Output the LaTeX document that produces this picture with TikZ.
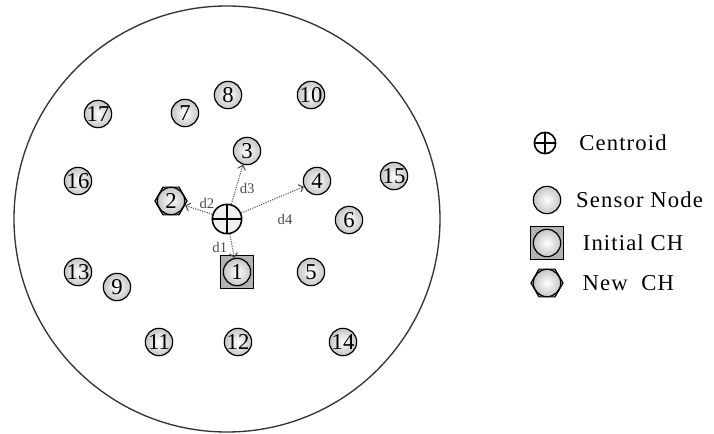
\documentclass[tikz,border=0pt]{standalone}
\usepackage{fontspec}
\setmainfont{Liberation Serif}
\usepackage{xcolor}
\usetikzlibrary{arrows.meta, positioning, shapes.geometric}

\begin{document}
\begin{tikzpicture}[
    x=0.75pt, y=-0.75pt,
    sensor/.style={draw, circle, line width=0.9pt, minimum size=20.5pt, inner sep=0pt,
        shading=radial, inner color=white, outer color=gray!45,
        font=\fontsize{17}{17}\selectfont},
    initch/.style={draw, rectangle, line width=0.9pt, minimum size=24.5pt, inner sep=0pt, fill=gray!60},
    newch/.style={draw, regular polygon, regular polygon sides=6, line width=0.9pt,
        minimum size=24pt, inner sep=0pt, fill=gray!60},
    centroid/.style={draw, circle, line width=1.2pt, minimum size=22pt, inner sep=0pt, fill=gray!12,
        path picture={\draw[line width=1.1pt] (path picture bounding box.north) -- (path picture bounding box.south)
            (path picture bounding box.west) -- (path picture bounding box.east);}},
    dist/.style={densely dotted, gray!60!black, line width=0.8pt, -{Straight Barb[length=3pt, width=6pt]}},
    dlab/.style={font=\fontsize{11}{11}\selectfont, inner sep=0.5pt},
    legtext/.style={anchor=west, inner sep=0pt, font=\fontsize{17}{17}\selectfont\addfontfeature{LetterSpace=5}}
]
    \useasboundingbox (0,0) rectangle (714,434);

    % Field
    \node[draw, circle, line width=1pt, black!80, minimum size=319.5pt] (field) at (227,219) {};

    % Sensor nodes
    \node[sensor] (n17) at (98,114) {17};
    \node[sensor] (n7) at (185,113) {7};
    \node[sensor] (n8) at (228,95) {8};
    \node[sensor] (n10) at (311,95) {10};
    \node[sensor] (n3) at (247,151) {3};
    \node[sensor] (n16) at (78,181) {16};
    \node[sensor] (n4) at (317,181) {4};
    \node[sensor] (n15) at (394,176) {15};
    \node[sensor] (n6) at (349,220) {6};
    \node[sensor] (n13) at (78,272) {13};
    \node[sensor] (n9) at (117,287) {9};
    \node[sensor] (n5) at (311,272) {5};
    \node[sensor] (n11) at (159,342) {11};
    \node[sensor] (n12) at (238,342) {12};
    \node[sensor] (n14) at (343,342) {14};

    % Cluster heads
    \node[initch] (ich) at (237,272) {};
    \node[sensor] (n1) at (ich) {1};
    \node[newch] (nch) at (171,201) {};
    \node[sensor] (n2) at (nch) {2};

    % Centroid
    \node[centroid] (cen) at (227,219) {};

    % Distances
    \draw[dist] (cen) -- node[dlab, left=3pt, pos=0.55]{d1} (n1);
    \draw[dist] (cen) -- node[dlab, above=2pt, pos=0.2]{d2} (nch);
    \draw[dist] (cen) -- node[dlab, right=2pt, pos=0.4]{d3} (n3);
    \draw[dist] (cen) -- node[dlab, below=14pt, pos=0.7]{d4} (n4);

    % Legend
    \node[centroid, minimum size=16pt, fill=white] (lcen) at (545,143) {};
    \node[legtext, right=17pt of lcen] (tcen) {Centroid};
    \node[sensor] (lsen) at (547,200) {};
    \node[legtext, right=11pt of lsen] (tsen) {Sensor Node};
    \node[initch] (lich) at (547,243) {};
    \node[sensor] (lich1) at (lich) {};
    \node[legtext, right=14pt of lich] (tich) {Initial CH};
    \node[newch] (lnch) at (547,283) {};
    \node[sensor] (lnch1) at (lnch) {};
    \node[legtext, right=14pt of lnch] (tnch) {New~~CH};
\end{tikzpicture}
\end{document}
